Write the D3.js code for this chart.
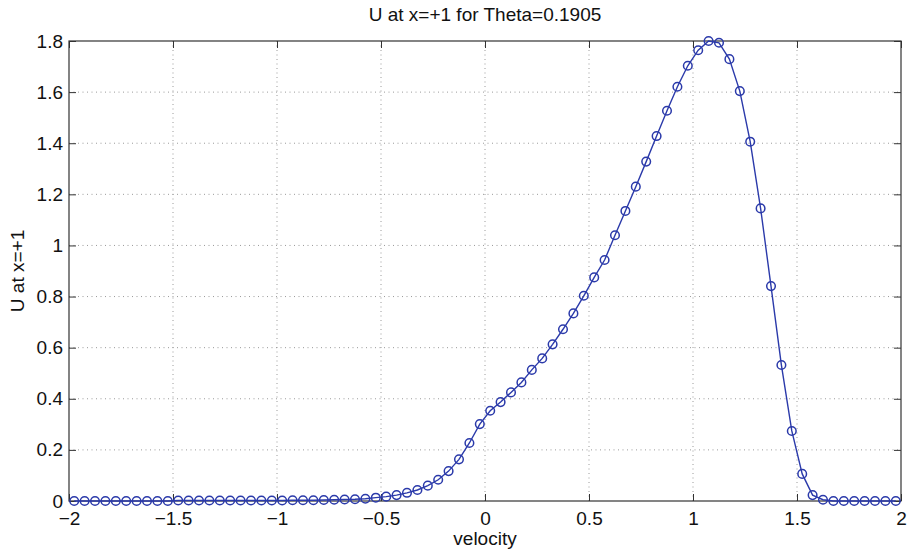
<!DOCTYPE html>
<html><head><meta charset="utf-8">
<script src="https://cdn.jsdelivr.net/npm/d3@7"></script>
<style>body{margin:0;background:#fff}svg{display:block}text{font-family:"Liberation Sans",Arial,sans-serif;fill:#111}</style>
</head><body><div id="chart"></div>
<script>
const velocity = [-1.975,-1.925,-1.875,-1.825,-1.775,-1.725,-1.675,-1.625,-1.575,-1.525,
-1.475,-1.425,-1.375,-1.325,-1.275,-1.225,-1.175,-1.125,-1.075,-1.025,
-0.975,-0.925,-0.875,-0.825,-0.775,-0.725,-0.675,-0.625,-0.575,-0.525,
-0.475,-0.425,-0.375,-0.325,-0.275,-0.225,-0.175,-0.125,-0.075,-0.025,
0.025,0.075,0.125,0.175,0.225,0.275,0.325,0.375,0.425,0.475,
0.525,0.575,0.625,0.675,0.725,0.775,0.825,0.875,0.925,0.975,
1.025,1.075,1.125,1.175,1.225,1.275,1.325,1.375,1.425,1.475,
1.525,1.575,1.625,1.675,1.725,1.775,1.825,1.875,1.925,1.975];
const uValues = [0,0,0,0,0,0,0,0,0,0,
0.002,0.002,0.002,0.002,0.002,0.002,0.002,0.002,0.002,0.002,
0.002,0.003,0.003,0.003,0.004,0.005,0.006,0.007,0.009,0.013,
0.017,0.023,0.032,0.043,0.060,0.083,0.117,0.163,0.227,0.301,
0.353,0.387,0.425,0.464,0.513,0.558,0.613,0.672,0.734,0.803,
0.875,0.943,1.040,1.135,1.230,1.328,1.428,1.527,1.621,1.703,
1.764,1.800,1.793,1.729,1.604,1.406,1.145,0.841,0.532,0.274,
0.106,0.023,0.005,0,0,0,0,0,0,0];
const xTicks = [-2,-1.5,-1,-0.5,0,0.5,1,1.5,2];
const yTicks = [0,0.2,0.4,0.6,0.8,1,1.2,1.4,1.6,1.8];
const titleText = "U at x=+1 for Theta=0.1905";
const xLabel = "velocity";
const yLabel = "U at x=+1";

const W = 912, H = 554;
const m = {left:69, right:11, top:41, bottom:53};
const iw = W - m.left - m.right, ih = H - m.top - m.bottom;
const FS = "19px";
const svg = d3.select("#chart").append("svg").attr("width", W).attr("height", H);
const g = svg.append("g").attr("transform", `translate(${m.left},${m.top})`);
const x = d3.scaleLinear().domain([-2,2]).range([0, iw]);
const y = d3.scaleLinear().domain([0,1.8]).range([ih, 0]);
const fmt = v => String(v).replace("-", "\u2212");

// grid
g.append("g").selectAll("line").data(xTicks.slice(1,-1)).join("line")
  .attr("x1", d=>x(d)).attr("x2", d=>x(d)).attr("y1", 0).attr("y2", ih)
  .attr("stroke", "#9a9a9a").attr("stroke-width", 1).attr("stroke-dasharray", "1,3.5");
g.append("g").selectAll("line").data(yTicks.slice(1,-1)).join("line")
  .attr("y1", d=>y(d)).attr("y2", d=>y(d)).attr("x1", 0).attr("x2", iw)
  .attr("stroke", "#9a9a9a").attr("stroke-width", 1).attr("stroke-dasharray", "1,3.5");

// axes (ticks inward)
const ax = (sel) => sel.call(s => s.select(".domain").remove())
  .call(s => s.selectAll("line").attr("stroke", "#333"))
  .call(s => s.selectAll("text").style("font-size", FS).attr("fill", "#111"));
g.append("g").attr("transform", `translate(0,${ih})`)
  .call(d3.axisBottom(x).tickValues(xTicks).tickFormat(fmt).tickSizeInner(-7).tickPadding(11)).call(ax);
g.append("g").call(d3.axisTop(x).tickValues(xTicks).tickFormat("").tickSizeInner(-7)).call(ax);
g.append("g")
  .call(d3.axisLeft(y).tickValues(yTicks).tickFormat(d3.format("~g")).tickSizeInner(-7).tickPadding(6)).call(ax);
g.append("g").attr("transform", `translate(${iw},0)`)
  .call(d3.axisRight(y).tickValues(yTicks).tickFormat("").tickSizeInner(-7)).call(ax);
g.append("rect").attr("width", iw).attr("height", ih).attr("fill", "none").attr("stroke", "#333").attr("stroke-width", 1.2);

// data
const data = velocity.map((v,i)=>({v, u:uValues[i]}));
const col = "#2b3aaa";
g.append("path").datum(data).attr("fill","none").attr("stroke", col).attr("stroke-width", 1.4)
  .attr("d", d3.line().x(d=>x(d.v)).y(d=>y(d.u)));
g.append("g").selectAll("circle").data(data).join("circle")
  .attr("cx", d=>x(d.v)).attr("cy", d=>y(d.u)).attr("r", 4.3)
  .attr("fill", "none").attr("stroke", col).attr("stroke-width", 1.5);

// labels
svg.append("text").attr("x", m.left + iw/2).attr("y", 21).attr("text-anchor","middle")
  .style("font-size",FS).text(titleText);
svg.append("text").attr("x", m.left + iw/2).attr("y", 545).attr("text-anchor","middle")
  .style("font-size",FS).text(xLabel);
svg.append("text").attr("transform", `translate(24,${m.top + ih/2}) rotate(-90)`).attr("text-anchor","middle")
  .style("font-size",FS).text(yLabel);
</script></body></html>
